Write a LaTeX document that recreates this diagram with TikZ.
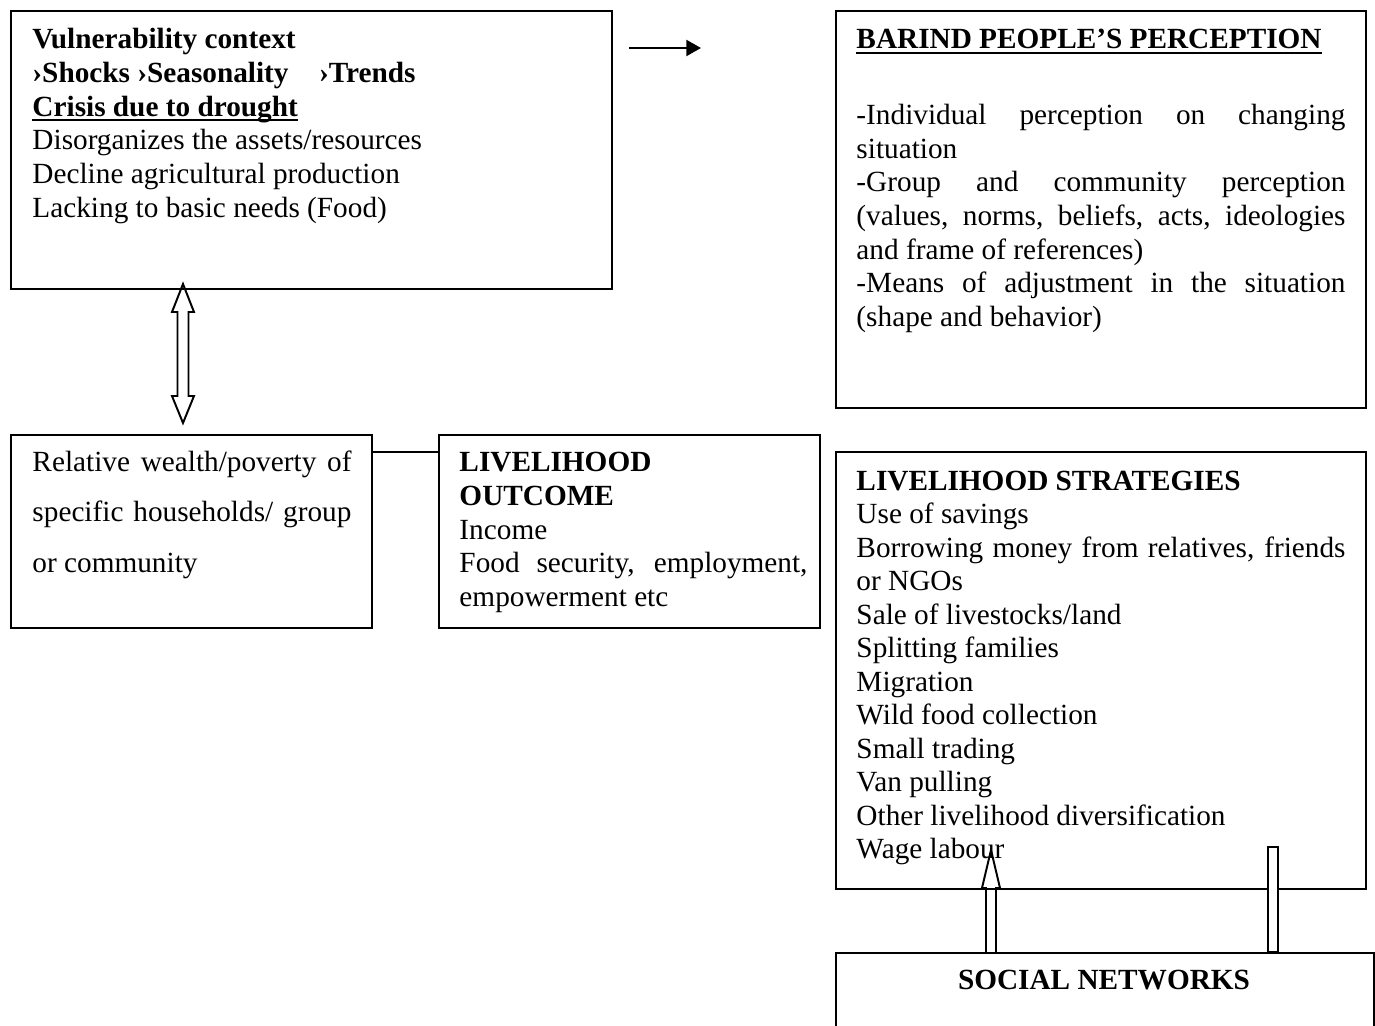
\documentclass[tikz,border=0pt]{standalone}
\usepackage{fontspec}
\setmainfont{Liberation Serif}
\usetikzlibrary{arrows.meta}
\newcommand{\pxu}{0.41pt}
\newcommand{\ulbar}[1]{\leavevmode\setbox0\hbox{#1}\rlap{\rule[-2pt]{\wd0}{0.7pt}}\box0}
\newcommand{\fullline}[1]{\makebox[\hsize][s]{#1}}

\begin{document}
\begin{tikzpicture}[x=0.41pt, y=-0.41pt,
		panel/.style={draw, line width=0.8pt, anchor=north west, inner sep=0pt},
		txt/.style={anchor=base west, inner sep=0pt, align=left, font=\fontsize{12pt}{13.8pt}\selectfont,
			execute at begin node={\spaceskip=0pt\xspaceskip=0pt}},
		hollow/.style={draw, line width=0.8pt}]
		\useasboundingbox (0,0) rectangle (1375,1026);
		\clip (0,0) rectangle (1375,1026);
		% boxes
		\node[panel, minimum width=601*\pxu, minimum height=278*\pxu] (vuln) at (10,10) {};
		\node[panel, minimum width=530*\pxu, minimum height=397*\pxu] (barind) at (835,10) {};
		\node[panel, minimum width=361*\pxu, minimum height=193*\pxu] (wealth) at (10,434) {};
		\node[panel, minimum width=381*\pxu, minimum height=193*\pxu] (outcome) at (438,434) {};
		\node[panel, minimum width=530*\pxu, minimum height=437*\pxu] (strategies) at (835,451) {};
		\node[panel, minimum width=538*\pxu, minimum height=100*\pxu] (social) at (835,952) {};
		% texts
		\node[txt, text width=560*\pxu] (vulntext) at (32,49) {\textbf{Vulnerability context}\\
			\textbf{›Shocks ›Seasonality\hspace*{12.5pt}›Trends}\\
			\ulbar{\textbf{Crisis due to drought}}\\
			Disorganizes the assets/resources\\
			Decline agricultural production\\
			Lacking to basic needs (Food)};
		\node[txt, text width=489*\pxu] (barindtext) at (856,49) {\ulbar{\textbf{BARIND PEOPLE’S PERCEPTION}}\\[17.2pt]
			\fullline{-Individual perception on changing}\\
			situation\\
			\fullline{-Group and community perception}\\
			\fullline{(values, norms, beliefs, acts, ideologies}\\
			and frame of references)\\
			\fullline{-Means of adjustment in the situation}\\
			(shape and behavior)};
		\node[txt, text width=319*\pxu, font=\fontsize{12pt}{20.9pt}\selectfont] (wealthtext) at (32,471) {\fullline{Relative wealth/poverty of}\\
			\fullline{specific households/ group}\\
			or community};
		\node[txt, text width=348*\pxu] (outcometext) at (459,472) {\textbf{LIVELIHOOD}\\
			\textbf{OUTCOME}\\
			Income\\
			\fullline{Food security, employment,}\\
			empowerment etc};
		\node[txt, text width=489*\pxu, font=\fontsize{12pt}{13.75pt}\selectfont] (strategiestext) at (856,490) {\textbf{LIVELIHOOD STRATEGIES}\\
			Use of savings\\
			\fullline{Borrowing money from relatives, friends}\\
			or NGOs\\
			Sale of livestocks/land\\
			Splitting families\\
			Migration\\
			Wild food collection\\
			Small trading\\
			Van pulling\\
			Other livelihood diversification\\
			Wage labour};
		\node[txt, anchor=base] (socialtext) at (1104,989) {\textbf{SOCIAL NETWORKS}};
		% connectors
		\coordinate (arrowtail) at (629,48);
		\coordinate (arrowtip) at (701,48);
		\draw[line width=1pt, -{Triangle[length=6pt,width=6.5pt]}] (arrowtail) -- (arrowtip);
		\draw[line width=1.1pt] ([yshift=-18*\pxu]wealth.north east) -- ([yshift=-18*\pxu]outcome.north west);
		\draw[hollow] (183,284) -- (194,312) -- (188.5,312) -- (188.5,396) -- (194,396) -- (183,423)
			-- (172,396) -- (177.5,396) -- (177.5,312) -- (172,312) -- cycle;
		\draw[hollow] (986,952) -- (986,888) -- (982,888) -- (991,850) -- (1000,888) -- (996,888) -- (996,952);
		\draw[hollow, fill=white] (1268,847) rectangle (1278,952);
	\end{tikzpicture}
\end{document}
